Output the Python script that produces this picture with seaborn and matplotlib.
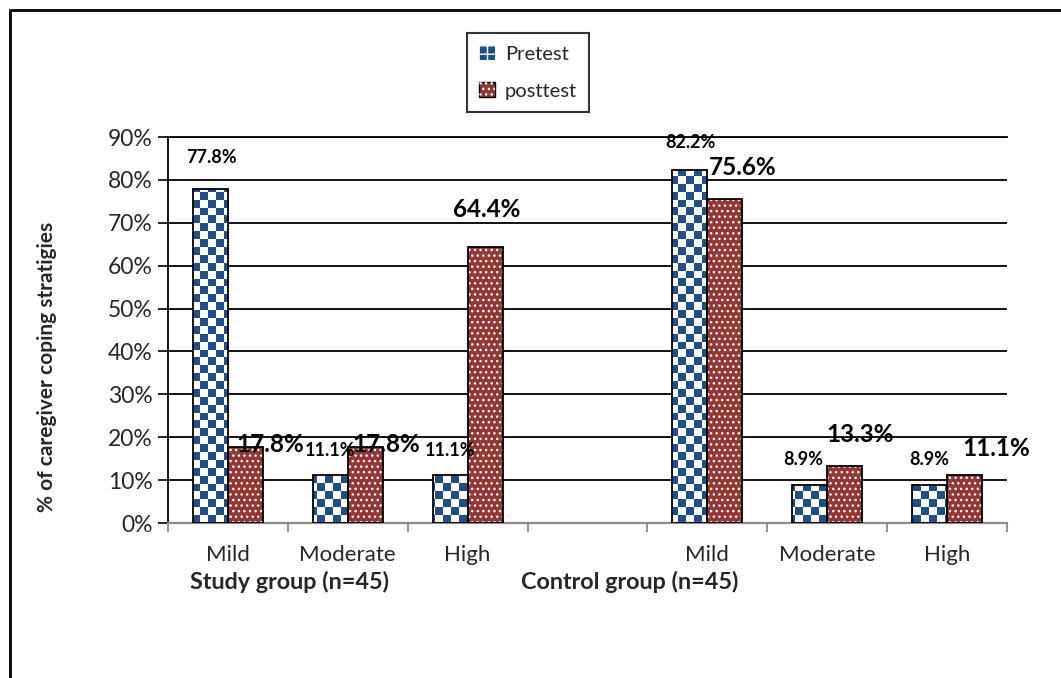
import numpy as np
import pandas as pd
import seaborn as sns
import matplotlib
matplotlib.use("Agg")
import matplotlib.pyplot as plt
from matplotlib.colors import ListedColormap
from matplotlib.patches import Patch, Rectangle

# ---- data -------------------------------------------------------------
levels = ["Mild", "Moderate", "High"]
groups = ["Study group (n=45)", "Control group (n=45)"]
tests = ["Pretest", "posttest"]
pre_study = [77.8, 11.1, 11.1]
post_study = [17.8, 17.8, 64.4]
pre_control = [82.2, 8.9, 8.9]
post_control = [75.6, 13.3, 11.1]

# ---- styling ----------------------------------------------------------
BLUE = "#1F4E8A"
RED = "#943634"
GREY = "#8C8C8C"

sns.set_theme(style="white")
plt.rcParams["font.family"] = ["Lato", "DejaVu Sans"]

# long table: one slot per bar pair, plus an empty spacer between groups
rows = []
for g, pre, post in [(groups[0], pre_study, post_study),
                     (groups[1], pre_control, post_control)]:
    for lv, a, b in zip(levels, pre, post):
        rows.append({"slot": f"{g}|{lv}", "test": tests[0], "value": a})
        rows.append({"slot": f"{g}|{lv}", "test": tests[1], "value": b})
df = pd.DataFrame(rows)
order = [f"{groups[0]}|{lv}" for lv in levels] + ["spacer"] + \
        [f"{groups[1]}|{lv}" for lv in levels]
tick_text = levels + [""] + levels

W, H, DPI = 10.61, 6.78, 100
fig = plt.figure(figsize=(W, H), dpi=DPI)
L, R, B, T = 168 / 1061, 1007 / 1061, 1 - 523 / 678, 1 - 137 / 678
ax = fig.add_axes([L, B, R - L, T - B])

sns.barplot(data=df, x="slot", y="value", hue="test", order=order,
            hue_order=tests, palette=[BLUE, RED], width=0.585, gap=0,
            saturation=1, errorbar=None, edgecolor="black", linewidth=1.3,
            legend=False, ax=ax)

pre_bars = sorted(ax.containers[0].patches, key=lambda p: p.get_x())
post_bars = sorted(ax.containers[1].patches, key=lambda p: p.get_x())

# checkerboard fill for pretest bars (~8 px cells), clipped to each bar
ax_w_px = W * DPI * (R - L)
ax_h_px = H * DPI * (T - B)
cell = 7.8
checker = np.indices((int(ax_h_px / cell), int(ax_w_px / cell))).sum(axis=0) % 2
for p in pre_bars:
    im = ax.imshow(checker, cmap=ListedColormap(["white", BLUE]),
                   extent=(0, 1, 0, 1), transform=ax.transAxes,
                   interpolation="nearest", aspect="auto", zorder=2)
    im.set_clip_path(p)
    p.set_facecolor("none")
    p.set_zorder(3)

# dotted fill for posttest bars
for p in post_bars:
    ax.add_patch(Rectangle(p.get_xy(), p.get_width(), p.get_height(),
                           facecolor=RED, edgecolor="white", hatch="...",
                           linewidth=0, zorder=2))
    p.set_facecolor("none")
    p.set_zorder(3)

# value labels (offsets in pixels from the top centre of each bar)
pre_offsets = {0: (1, 32), 1: (0, 25), 2: (0, 25), 4: (1, 28), 5: (-6, 25), 6: (0, 25)}
post_offsets = {0: (25, 2), 1: (21, 2), 2: (2, 37), 4: (18, 31), 5: (15, 31), 6: (32, 27)}
for bars, offs, size in [(pre_bars, pre_offsets, 13), (post_bars, post_offsets, 17.5)]:
    for p in bars:
        xc = p.get_x() + p.get_width() / 2
        h = p.get_height()
        slot = int(round(xc))
        ax.annotate(f"{h:.1f}%", xy=(xc, h), xytext=offs[slot],
                    textcoords="offset pixels", ha="center", va="center",
                    fontsize=size, fontweight="bold", color="black",
                    annotation_clip=False, zorder=5)

# axes
ax.set_xlim(-0.5, len(order) - 0.5)
ax.set_ylim(0, 90)
yt = np.arange(0, 91, 10)
ax.set_yticks(yt)
ax.set_yticklabels([f"{v}%" for v in yt], fontsize=16.5)
ax.set_ylabel("")
ax.set_xlabel("")
ax.set_xticks(range(len(order)))
ax.set_xticklabels(tick_text, fontsize=16)
ax.set_xticks(np.arange(-0.5, len(order), 1), minor=True)
ax.tick_params(axis="x", which="major", length=0, pad=16)
ax.tick_params(axis="x", which="minor", length=6.5, width=1.3, color=GREY,
               direction="out", bottom=True)
ax.tick_params(axis="y", length=7, width=1.2, color="black", direction="out",
               left=True, pad=4)

ax.set_axisbelow(True)
ax.yaxis.grid(True, color="black", linewidth=1.3)
ax.xaxis.grid(False)
ax.spines["right"].set_visible(False)
ax.spines["top"].set_color("black")
ax.spines["top"].set_linewidth(1.3)
ax.spines["left"].set_color("black")
ax.spines["left"].set_linewidth(1.3)
ax.spines["bottom"].set_color(GREY)
ax.spines["bottom"].set_linewidth(1.6)
ax.spines["bottom"].set_zorder(2.6)

# group names under the category labels
xfm = ax.get_xaxis_transform()
ax.text(0.51, -0.153, groups[0], transform=xfm, ha="center", va="center",
        fontsize=16.8, fontweight="bold")
ax.text(3.355, -0.153, groups[1], transform=xfm, ha="center", va="center",
        fontsize=16.8, fontweight="bold")

# y-axis title
fig.text(0.0445, 1 - 367 / 678, "% of caregiver coping stratigies",
         rotation=90, ha="center", va="center", fontsize=15, fontweight="bold")

# legend
handles = [
    Patch(facecolor=BLUE, edgecolor="white", hatch="++", linewidth=0),
    (Patch(facecolor=RED, edgecolor="black", linewidth=1.0),
     Patch(facecolor="none", edgecolor="white", hatch="...", linewidth=0)),
]
leg = fig.legend(handles, tests, loc="upper center",
                 bbox_to_anchor=(528 / 1061, 1 - 33 / 678), frameon=True,
                 fancybox=False, fontsize=14.5, handlelength=0.8,
                 handleheight=0.8, labelspacing=0.95, borderpad=0.6,
                 handletextpad=0.5, borderaxespad=0)
leg.get_frame().set_edgecolor("black")
leg.get_frame().set_linewidth(1.5)

# outer frame (only its top and left edges fall inside the canvas)
fig.add_artist(Rectangle((10 / 1061, -0.2), 1.5, 1.2 - 10 / 678,
                         transform=fig.transFigure, facecolor="none",
                         edgecolor="black", linewidth=2, clip_on=False))

fig.savefig("out.png", dpi=DPI)
